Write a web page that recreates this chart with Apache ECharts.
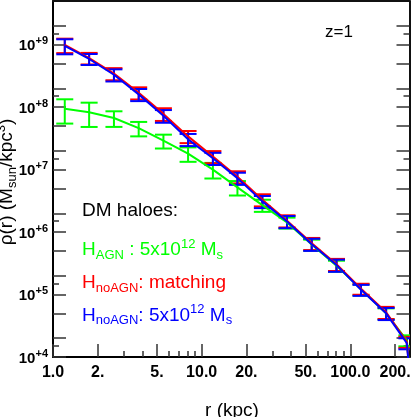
<!DOCTYPE html>
<html><head><meta charset="utf-8">
<script src="https://cdn.jsdelivr.net/npm/echarts@6/dist/echarts.min.js"></script>
<style>html,body{margin:0;padding:0;background:#fff}#c{width:415px;height:417px}</style>
</head><body><div id="c"></div>
<script>
// ---- data ----
const radius = [1.2, 1.75, 2.57, 3.77, 5.53, 8.1, 11.9, 17.4, 25.6, 37.5, 55, 80.7, 118, 174, 240, 254];
const greenRho = [9.4e7, 8.3e7, 6.7e7, 4.6e7, 2.9e7, 1.8e7, 1.0e7, 5.2e6, 2.7e6, 1.42e6, 6.3e5, 2.9e5, 1.21e5, 5.0e4, 1.85e4, 3.8e3];
const redRho   = [9.9e8, 6.1e8, 3.45e8, 1.7e8, 7.8e7, 3.4e7, 1.62e7, 7.7e6, 3.3e6, 1.52e6, 6.6e5, 3.05e5, 1.24e5, 5.2e4, 1.75e4, 3.6e3];
const blueRho  = [9.6e8, 5.9e8, 3.3e8, 1.6e8, 7.3e7, 3.05e7, 1.52e7, 7.3e6, 3.1e6, 1.48e6, 6.4e5, 2.96e5, 1.19e5, 5.0e4, 1.66e4, 3.5e3];
// relative (linear) error bar half-sizes
const greenErr = [0.42, 0.42, 0.28, 0.26, 0.25, 0.26, 0.28, 0.26, 0.22, 0.2, 0.2, 0.2, 0.2, 0.2, 0.2, 0.2];
const redErr   = [0.26, 0.21, 0.22, 0.22, 0.23, 0.22, 0.22, 0.22, 0.22, 0.22, 0.22, 0.22, 0.2, 0.22, 0.2, 0.2];
const blueErr  = [0.27, 0.2, 0.22, 0.22, 0.23, 0.22, 0.22, 0.22, 0.22, 0.22, 0.22, 0.22, 0.2, 0.22, 0.2, 0.2];

const xLabelValues = [1, 2, 5, 10, 20, 50, 100, 200];
const xLabelTexts = ['1.0', '2.', '5.', '10.0', '20.', '50.', '100.0', '200.'];
const xMinorTicks = [3, 4, 6, 7, 8, 9, 30, 40, 60, 70, 80, 90];
const yLabelValues = [1e4, 1e5, 1e6, 1e7, 1e8, 1e9];
const yLabelExps = ['+4', '+5', '+6', '+7', '+8', '+9'];
const yMajorTicks = [1e4, 2e4, 5e4, 1e5, 2e5, 5e5, 1e6, 2e6, 5e6, 1e7, 2e7, 5e7, 1e8, 2e8, 5e8, 1e9, 2e9];
const yMinorTicks = [1.5e4, 1.5e5, 1.5e6, 1.5e7, 1.5e8, 1.5e9];

const X_MIN = 1, X_MAX = 250, Y_MIN = 1e4, Y_MAX = 5e9;
const GREEN = '#00ff00', RED = '#ff0000', BLUE = '#0000ff';
const FONT = "'Liberation Sans', Arial, Helvetica, sans-serif";

function findIdx(vals, v) {
  for (let i = 0; i < vals.length; i++) {
    if (Math.abs(Math.log10(v) - Math.log10(vals[i])) < 1e-6) return i;
  }
  return -1;
}

function lineData(rho) { return radius.map((r, i) => [r, rho[i]]); }
function errData(rho, err) { return radius.map((r, i) => [r, rho[i] * (1 - err[i]), rho[i] * (1 + err[i])]); }

function errRender(color) {
  return function (params, api) {
    const x = api.value(0), lo = api.value(1), hi = api.value(2);
    const a = api.coord([x, lo]), b = api.coord([x, hi]);
    const hw = 8.5;
    const st = { stroke: color, lineWidth: 2 };
    return {
      type: 'group', children: [
        { type: 'line', shape: { x1: a[0], y1: a[1], x2: b[0], y2: b[1] }, style: st },
        { type: 'line', shape: { x1: a[0] - hw, y1: a[1], x2: a[0] + hw, y2: a[1] }, style: st },
        { type: 'line', shape: { x1: b[0] - hw, y1: b[1], x2: b[0] + hw, y2: b[1] }, style: st }
      ]
    };
  };
}

const tickStyle = { color: '#333', width: 1.5 };
const baseX = { type: 'log', min: X_MIN, max: X_MAX, gridIndex: 0, splitLine: { show: false }, minorTick: { show: false } };
const baseY = { type: 'log', min: Y_MIN, max: Y_MAX, gridIndex: 0, splitLine: { show: false }, minorTick: { show: false } };

const chart = echarts.init(document.getElementById('c'), null, { renderer: 'canvas' });
chart.setOption({
  animation: false,
  backgroundColor: '#fff',
  grid: { left: 53, right: 5.5, top: 1, bottom: 60, containLabel: false },
  xAxis: [
    Object.assign({}, baseX, {
      position: 'bottom',
      axisLine: { show: true, lineStyle: { color: '#000', width: 2 } },
      axisTick: { show: true, inside: true, length: 13, lineStyle: tickStyle, customValues: xLabelValues },
      axisLabel: {
        show: true, margin: 8, customValues: xLabelValues,
        fontFamily: FONT, fontSize: 16, fontWeight: 'bold', color: '#000',
        formatter: function (v) { const i = findIdx(xLabelValues, v); return i >= 0 ? xLabelTexts[i] : ''; }
      }
    }),
    Object.assign({}, baseX, {
      position: 'bottom',
      axisLine: { show: false },
      axisTick: { show: true, inside: true, length: 6, lineStyle: tickStyle, customValues: xMinorTicks },
      axisLabel: { show: false }
    }),
    Object.assign({}, baseX, {
      position: 'top',
      axisLine: { show: true, lineStyle: { color: '#111', width: 2 } },
      axisTick: { show: false },
      axisLabel: { show: false }
    })
  ],
  yAxis: [
    Object.assign({}, baseY, {
      position: 'left',
      axisLine: { show: true, lineStyle: { color: '#000', width: 2 } },
      axisTick: { show: true, inside: true, length: 13, lineStyle: tickStyle, customValues: yMajorTicks },
      axisLabel: {
        show: true, margin: 5, customValues: yLabelValues,
        formatter: function (v) { const i = findIdx(yLabelValues, v); return i >= 0 ? '{b|10}{s|' + yLabelExps[i] + '}' : ''; },
        rich: {
          b: { fontFamily: FONT, fontSize: 15, fontWeight: 'bold', color: '#000', lineHeight: 18, padding: [3, 0, 0, 0] },
          s: { fontFamily: FONT, fontSize: 11, fontWeight: 'bold', color: '#000', lineHeight: 8, verticalAlign: 'top' }
        }
      }
    }),
    Object.assign({}, baseY, {
      position: 'left',
      axisLine: { show: false },
      axisTick: { show: true, inside: true, length: 6, lineStyle: tickStyle, customValues: yMinorTicks },
      axisLabel: { show: false }
    }),
    Object.assign({}, baseY, {
      position: 'right',
      axisLine: { show: true, lineStyle: { color: '#111', width: 2 } },
      axisTick: { show: true, inside: true, length: 13, lineStyle: tickStyle, customValues: yMajorTicks },
      axisLabel: { show: false }
    }),
    Object.assign({}, baseY, {
      position: 'right',
      axisLine: { show: false },
      axisTick: { show: true, inside: true, length: 6, lineStyle: tickStyle, customValues: yMinorTicks },
      axisLabel: { show: false }
    })
  ],
  series: [
    { type: 'custom', name: 'gErr', xAxisIndex: 0, yAxisIndex: 0, clip: true, renderItem: errRender(GREEN), data: errData(greenRho, greenErr) },
    { type: 'line', name: 'H_AGN', xAxisIndex: 0, yAxisIndex: 0, clip: true, showSymbol: false, symbol: 'none', lineStyle: { color: GREEN, width: 2 }, data: lineData(greenRho) },
    { type: 'custom', name: 'rErr', xAxisIndex: 0, yAxisIndex: 0, clip: true, renderItem: errRender(RED), data: errData(redRho, redErr) },
    { type: 'line', name: 'H_noAGN matching', xAxisIndex: 0, yAxisIndex: 0, clip: true, showSymbol: false, symbol: 'none', lineStyle: { color: RED, width: 2 }, data: lineData(redRho) },
    { type: 'custom', name: 'bErr', xAxisIndex: 0, yAxisIndex: 0, clip: true, renderItem: errRender(BLUE), data: errData(blueRho, blueErr) },
    { type: 'line', name: 'H_noAGN 5e12', xAxisIndex: 0, yAxisIndex: 0, clip: true, showSymbol: false, symbol: 'none', lineStyle: { color: BLUE, width: 2 }, data: lineData(blueRho) }
  ],
  graphic: [
    { type: 'text', x: 325, y: 32, style: { text: 'z=1', fontFamily: FONT, fontSize: 17, fill: '#000', verticalAlign: 'middle', align: 'left' } },
    { type: 'text', x: 82, y: 210.4, style: { text: 'DM haloes:', fontFamily: FONT, fontSize: 19, fill: '#000', verticalAlign: 'middle', align: 'left' } },
    { type: 'text', x: 82, y: 250, style: {
      text: '{n|H}{sub|AGN}{n| : 5x10}{sup|12}{n| M}{sub|s}', verticalAlign: 'middle', align: 'left',
      rich: {
        n: { fontFamily: FONT, fontSize: 19, fill: GREEN, color: GREEN, lineHeight: 24 },
        sub: { fontFamily: FONT, fontSize: 13, fill: GREEN, color: GREEN, lineHeight: 16, verticalAlign: 'bottom' },
        sup: { fontFamily: FONT, fontSize: 13, fill: GREEN, color: GREEN, lineHeight: 14, verticalAlign: 'top' }
      } } },
    { type: 'text', x: 82, y: 282.5, style: {
      text: '{n|H}{sub|noAGN}{n|: matching}', verticalAlign: 'middle', align: 'left',
      rich: {
        n: { fontFamily: FONT, fontSize: 19, fill: RED, color: RED, lineHeight: 24 },
        sub: { fontFamily: FONT, fontSize: 13, fill: RED, color: RED, lineHeight: 16, verticalAlign: 'bottom' }
      } } },
    { type: 'text', x: 82, y: 315.4, style: {
      text: '{n|H}{sub|noAGN}{n|: 5x10}{sup|12}{n| M}{sub|s}', verticalAlign: 'middle', align: 'left',
      rich: {
        n: { fontFamily: FONT, fontSize: 19, fill: BLUE, color: BLUE, lineHeight: 24 },
        sub: { fontFamily: FONT, fontSize: 13, fill: BLUE, color: BLUE, lineHeight: 16, verticalAlign: 'bottom' },
        sup: { fontFamily: FONT, fontSize: 13, fill: BLUE, color: BLUE, lineHeight: 14, verticalAlign: 'top' }
      } } },
    { type: 'text', x: 232, y: 401.5, style: { text: 'r (kpc)', fontFamily: FONT, fontSize: 19, fill: '#000', align: 'center', verticalAlign: 'top' } },
    { type: 'text', x: 6.5, y: 182, rotation: Math.PI / 2, style: {
      text: '{n|\u03c1(r) (M}{sub|sun}{n|/kpc}{sup|3}{n|)}', align: 'center', verticalAlign: 'middle',
      rich: {
        n: { fontFamily: FONT, fontSize: 19, fill: '#000', color: '#000', lineHeight: 24 },
        sub: { fontFamily: FONT, fontSize: 13, fill: '#000', color: '#000', lineHeight: 16, verticalAlign: 'bottom' },
        sup: { fontFamily: FONT, fontSize: 13, fill: '#000', color: '#000', lineHeight: 14, verticalAlign: 'top' }
      } } }
  ]
});
</script></body></html>
